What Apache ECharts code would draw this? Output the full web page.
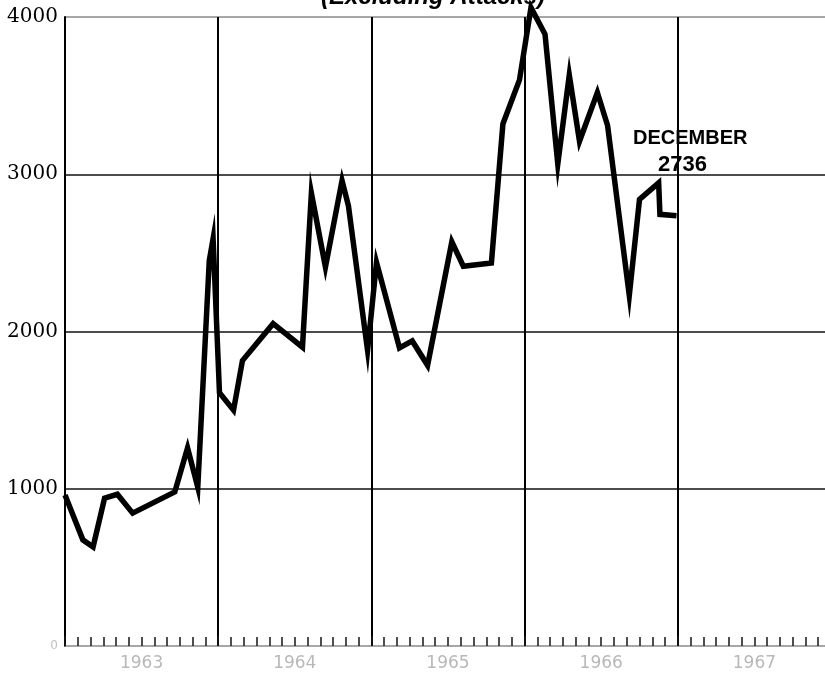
<!DOCTYPE html>
<html>
<head>
<meta charset="utf-8">
<title>Excluding Attacks</title>
<script src="https://cdn.jsdelivr.net/npm/echarts@6/dist/echarts.min.js"></script>
<style>
  html, body { margin: 0; padding: 0; background: #fff; }
  #chart { width: 825px; height: 692px; }
</style>
</head>
<body>
<div id="chart"></div>
<script>
// months counted from January 1963 (12 = start of 1964 ...)
const monthPos = [0, 1.4, 2.2, 3.1, 4.1, 5.3, 8.6, 9.6, 10.4, 11.3, 11.6,
  12.1, 13.2, 13.9, 16.3, 18.6, 19.3, 20.4, 21.7, 22.2, 23.7,
  24.4, 26.2, 27.2, 28.4, 30.3, 31.2, 33.4, 34.3, 35.6,
  36.5, 37.6, 38.6, 39.5, 40.3, 41.7, 42.5, 44.2, 45.0, 46.5, 46.6, 47.9];
const values = [960, 675, 630, 940, 965, 845, 980, 1260, 1010, 2450, 2590,
  1610, 1500, 1815, 2050, 1900, 2880, 2410, 2960, 2800, 1880,
  2440, 1895, 1940, 1785, 2570, 2415, 2435, 3320, 3600,
  4060, 3890, 3065, 3630, 3210, 3520, 3310, 2230, 2840, 2945, 2745, 2736];
const years = ['1963', '1964', '1965', '1966', '1967'];
const yTicks = [0, 1000, 2000, 3000, 4000];

document.addEventListener('DOMContentLoaded', function () {
  const chart = echarts.init(document.getElementById('chart'));

  const points = monthPos.map((m, i) => [m, values[i]]);

  const option = {
    animation: false,
    backgroundColor: '#fff',
    grid: { left: 65, width: 766, top: 17, height: 629, outerBoundsMode: 'none', containLabel: false },
    graphic: [
      {
        type: 'text', left: 321, top: -15,
        style: {
          text: '(Excluding Attacks)',
          font: 'italic bold 24px "Liberation Sans", Arial, sans-serif',
          fill: '#000'
        }
      },
      {
        type: 'text', left: 633, top: 128,
        style: {
          text: 'DECEMBER',
          font: 'bold 20px "Liberation Sans", Arial, sans-serif',
          fill: '#000'
        }
      },
      {
        type: 'text', left: 658, top: 154,
        style: {
          text: String(values[values.length - 1]),
          font: 'bold 22px "Liberation Sans", Arial, sans-serif',
          fill: '#000'
        }
      }
    ],
    xAxis: [
      {
        type: 'value',
        min: 0,
        max: 60,
        interval: 12,
        axisLine: { show: true, onZero: false, lineStyle: { color: '#9a9a9a', width: 1.5, type: 'dotted' } },
        axisTick: { show: true, inside: true, length: 10, lineStyle: { color: '#111', width: 2 } },
        minorTick: { show: true, splitNumber: 12, length: 9, lineStyle: { color: '#222', width: 1.6 } },
        axisLabel: { show: false },
        splitLine: { show: true, lineStyle: { color: '#000', width: 2 } }
      },
      {
        type: 'category',
        data: years,
        position: 'bottom',
        boundaryGap: true,
        axisLine: { show: false },
        axisTick: { show: false },
        axisLabel: {
          margin: 9,
          color: '#b8b8b8',
          fontSize: 17,
          fontFamily: '"DejaVu Sans", sans-serif'
        },
        splitLine: { show: false }
      }
    ],
    yAxis: {
      type: 'value',
      min: yTicks[0],
      max: yTicks[yTicks.length - 1],
      interval: 1000,
      axisLine: { show: true, lineStyle: { color: '#000', width: 2 } },
      axisTick: { show: false },
      axisLabel: {
        margin: 7,
        color: '#000',
        fontSize: 20,
        fontFamily: '"DejaVu Serif", serif',
        formatter: v => v === 0 ? '{z|0}' : String(v),
        rich: { z: { color: '#c0c0c0', fontSize: 12, fontFamily: '"DejaVu Sans", sans-serif' } }
      },
      splitLine: {
        show: true,
        lineStyle: { color: ['#aaa', '#111', '#111', '#111', '#8a8a8a'], width: 1.5 }
      }
    },
    series: [
      {
        type: 'line',
        xAxisIndex: 0,
        data: points,
        clip: false,
        symbol: 'none',
        smooth: false,
        lineStyle: { color: '#000', width: 5.5, join: 'miter', miterLimit: 12 }
      }
    ]
  };

  chart.setOption(option);
});
</script>
</body>
</html>
